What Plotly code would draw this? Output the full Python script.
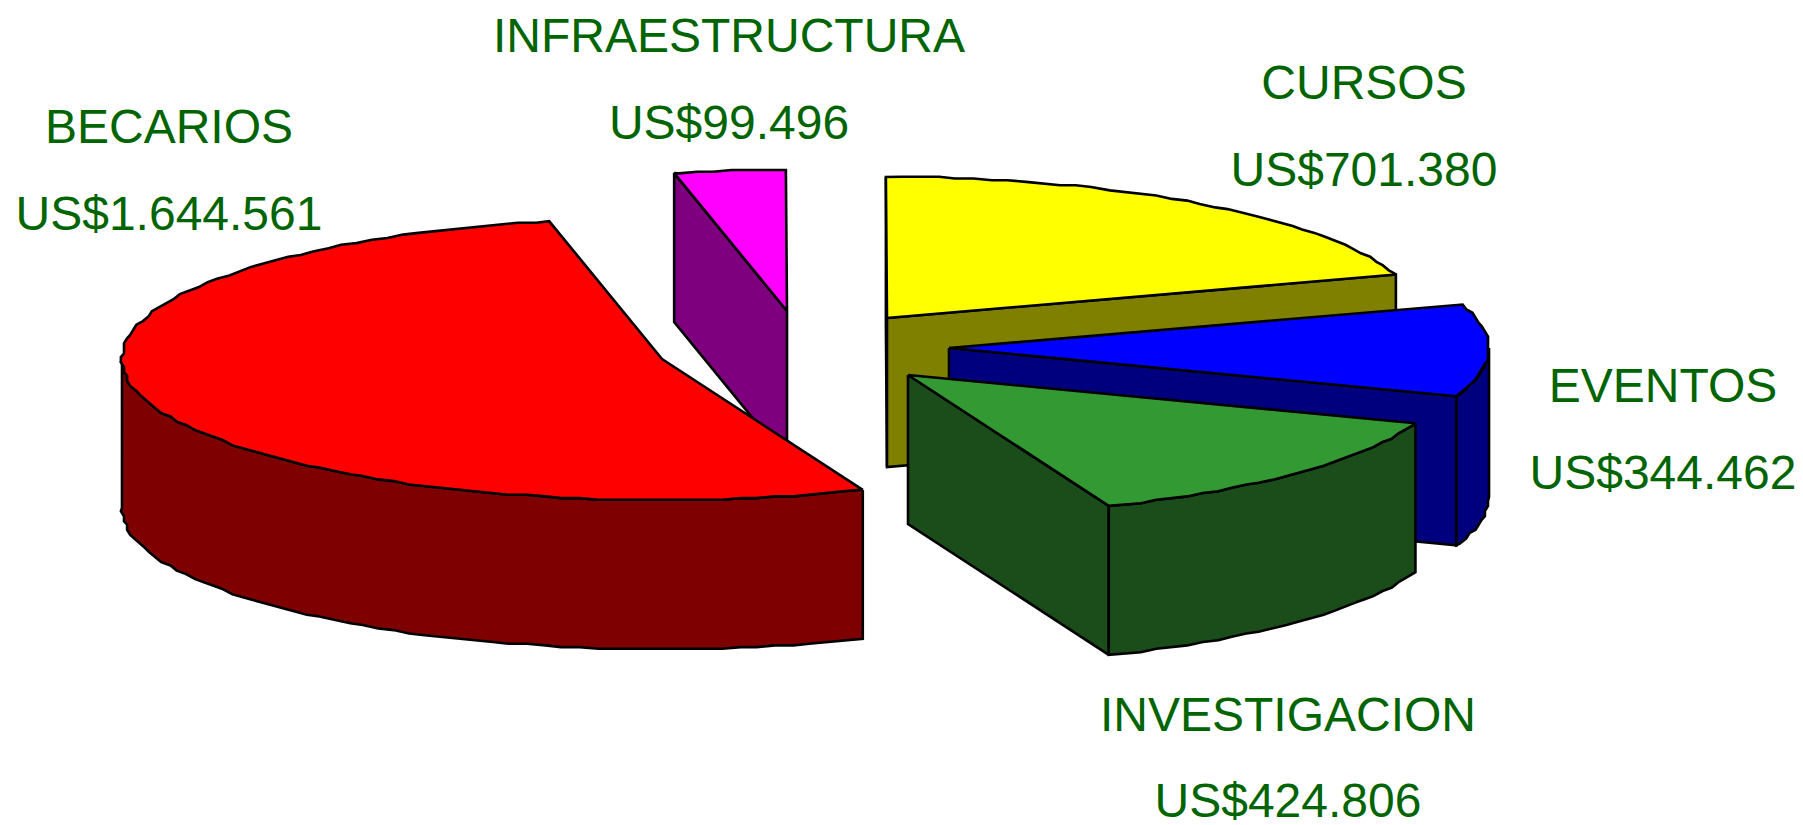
import math
import plotly.graph_objects as go

# Data (draw order: back to front handled below)
categories = ["INVESTIGACION", "BECARIOS", "INFRAESTRUCTURA", "CURSOS", "EVENTOS"]
values = [424806, 1644561, 99496, 701380, 344462]
top_colors = ["#339933", "#FF0000", "#FF00FF", "#FFFF00", "#0000FF"]
side_colors = ["#1A4D1A", "#7F0000", "#7F007F", "#7F7F00", "#00007F"]

# Projection of the 3-D pie, in pixels of the picture
START_ANGLE = 20.0
RX = [540.0, 540.0, 540.0, 535.0, 540.0]
RY, DEPTH = 141.0, 149.0
GRID_X, GRID_Y = 3.1, 1.7
STEP = 1.9
apex_x = [908, 662, 787, 887, 949]
apex_y = [375, 359, 311, 318, 348]
# the source's perspective shifts each slice's start edge slightly
edge_shift = [0.0, 0.6, 6.2, 7.0, 0.6]
label_x = [1288, 169, 729, 1364, 1663]
label_y = [719, 131, 40, 87, 390]
value_y = [805, 218, 127, 174, 477]
draw_order = [3, 2, 4, 0, 1]

total = sum(values)
cum = [START_ANGLE]
for v in values:
    cum.append(cum[-1] + 360.0 * v / total)
edges = [cum[i] + edge_shift[i] for i in range(len(values))] + [cum[0] + 360.0]


def rim_point(cx, cy, rx, a):
    t = math.radians(a)
    return cx + rx * math.cos(t), cy + RY * math.sin(t)


def rim(cx, cy, rx, a1, a2, dz=0.0):
    pts = [rim_point(cx, cy, rx, a1)]
    k = math.floor(a1 / STEP) + 1
    while k * STEP < a2:
        x, y = rim_point(cx, cy, rx, k * STEP)
        p = (round(x / GRID_X) * GRID_X, round(y / GRID_Y) * GRID_Y)
        if p != pts[-1]:
            pts.append(p)
        k += 1
    pts.append(rim_point(cx, cy, rx, a2))
    return [(x, y + dz) for x, y in pts]


def add_poly(fig, pts, color):
    pts = list(pts) + [pts[0]]
    fig.add_trace(go.Scatter(
        x=[p[0] for p in pts], y=[p[1] for p in pts], mode="lines",
        fill="toself", fillcolor=color,
        line=dict(color="#000000", width=2.6), hoverinfo="skip", showlegend=False,
    ))


fig = go.Figure()
for i in draw_order:
    cx, cy, rx = apex_x[i], apex_y[i], RX[i]
    a1, a2 = edges[i], edges[i + 1]
    top_rim = rim(cx, cy, rx, a1, a2)
    c1, c2 = top_rim[0], top_rim[-1]
    # cut faces that look towards the viewer
    if math.cos(math.radians(a1)) < -1e-6:
        add_poly(fig, [(cx, cy), c1, (c1[0], c1[1] + DEPTH), (cx, cy + DEPTH)], side_colors[i])
    if math.cos(math.radians(a2)) > 1e-6:
        add_poly(fig, [(cx, cy), c2, (c2[0], c2[1] + DEPTH), (cx, cy + DEPTH)], side_colors[i])
    # outer wall: the part of the rim on the front half
    for shift in (-360, 0, 360):
        lo, hi = max(a1 + shift, 0.0), min(a2 + shift, 180.0)
        if hi > lo:
            upper = rim(cx, cy, rx, lo, hi)
            lower = rim(cx, cy, rx, lo, hi, DEPTH)
            add_poly(fig, upper + lower[::-1], side_colors[i])
    add_poly(fig, [(cx, cy)] + top_rim, top_colors[i])

money = ["US$" + f"{v:,}".replace(",", ".") for v in values]
fig.add_trace(go.Scatter(
    x=label_x + label_x, y=label_y + value_y, mode="text",
    text=categories + money, textposition="middle center", cliponaxis=False,
    textfont=dict(family="Liberation Sans, Arial, sans-serif", size=48, color="#006400"),
    hoverinfo="skip", showlegend=False,
))

fig.update_layout(
    width=1803, height=825, margin=dict(l=0, r=0, t=0, b=0),
    paper_bgcolor="#FFFFFF", plot_bgcolor="#FFFFFF", showlegend=False,
    xaxis=dict(range=[0, 1803], visible=False, fixedrange=True),
    yaxis=dict(range=[825, 0], visible=False, fixedrange=True),
)
fig.write_html("out.html", config=dict(displayModeBar=False),
               post_script="document.body.style.margin='0';document.body.style.overflow='hidden';")
